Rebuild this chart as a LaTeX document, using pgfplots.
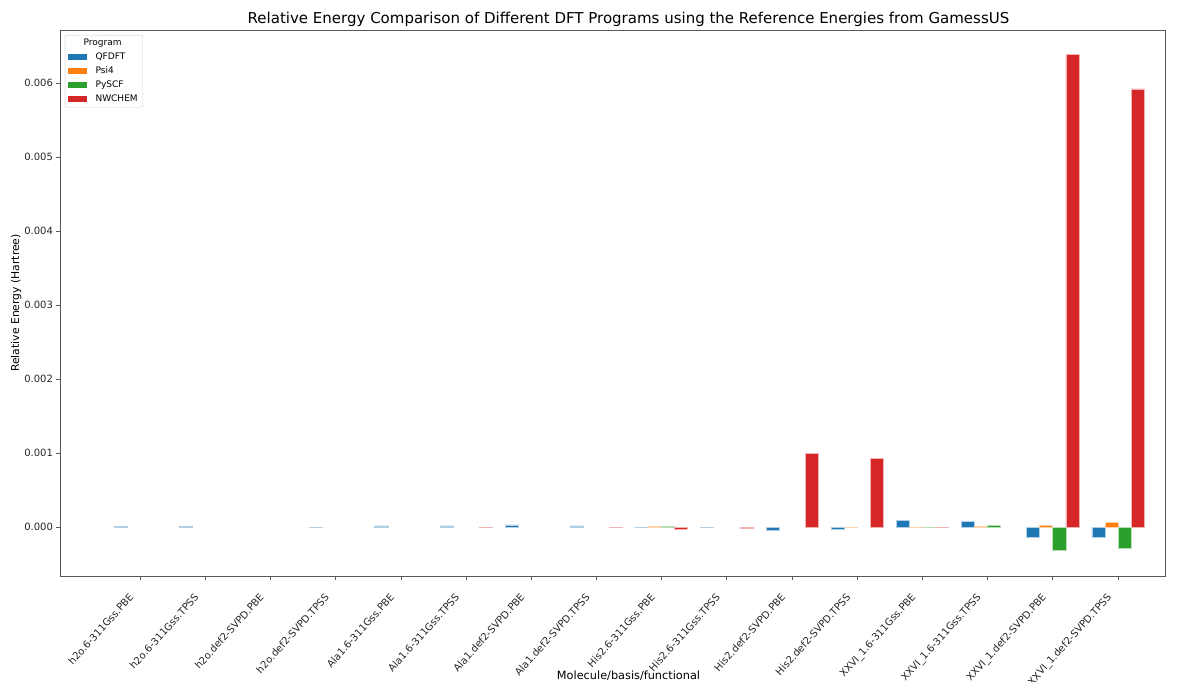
\documentclass[border=0pt]{standalone}
\usepackage{fontspec}
\setmainfont{DejaVu Sans}
\usepackage{pgfplots}
\usepackage{pgfplotstable}
\pgfplotsset{compat=1.18}
\definecolor{tabblue}{HTML}{1F77B4}
\definecolor{taborange}{HTML}{FF7F0E}
\definecolor{tabgreen}{HTML}{2CA02C}
\definecolor{tabred}{HTML}{D62728}
\definecolor{spine}{gray}{0.35}

\pgfplotstableread{
x qfdft psi4 pyscf nwchem
0 0.000002 nan nan nan
1 0.000002 nan nan nan
2 nan nan nan nan
3 -0.000002 nan nan nan
4 0.000015 nan nan nan
5 0.000015 nan nan -0.000003
6 0.000028 nan nan nan
7 0.000015 nan nan -0.000003
8 -0.000003 0.000003 0.000003 -0.00003
9 -0.000002 nan nan -0.000025
10 -0.00004 nan nan 0.001
11 -0.00003 -0.000003 nan 0.00093
12 0.00009 -0.000002 -0.000002 -0.000002
13 0.00007 0.000002 0.00002 nan
14 -0.000145 0.000025 -0.00031 0.00638
15 -0.000145 0.000058 -0.00029 0.00592
}\data

\pgfplotsset{
  patchlegend/.style={legend image code/.code={%
    \fill[##1, draw=none, sharp corners] (0pt,-2.8pt) rectangle (19pt,2.8pt);
    \path (25pt,0pt);}},
}

\begin{document}
\begin{tikzpicture}
\useasboundingbox (-60pt,-105pt) rectangle (1124pt,576pt);
\begin{axis}[
  scale only axis,
  width=1105pt, height=546pt,
  xmin=-1.23, xmax=15.72,
  ymin=-0.000662, ymax=0.006716,
  axis line style={spine, line width=0.9pt},
  tick style={spine, line width=0.9pt},
  tick align=outside,
  tick pos=left,
  major tick length=3.5pt,
  xtick={0,...,15},
  xticklabels={h2o.6-311Gss.PBE, h2o.6-311Gss.TPSS, h2o.def2-SVPD.PBE, h2o.def2-SVPD.TPSS,
    Ala1.6-311Gss.PBE, Ala1.6-311Gss.TPSS, Ala1.def2-SVPD.PBE, Ala1.def2-SVPD.TPSS,
    His2.6-311Gss.PBE, His2.6-311Gss.TPSS, His2.def2-SVPD.PBE, His2.def2-SVPD.TPSS,
    XXVI\_1.6-311Gss.PBE, XXVI\_1.6-311Gss.TPSS, XXVI\_1.def2-SVPD.PBE, XXVI\_1.def2-SVPD.TPSS},
  xticklabel style={xshift=-12pt, yshift=-10pt, rotate=48, anchor=north east, font=\fontsize{10}{11}\selectfont, text=black!85, inner sep=2pt},
  ytick={0,0.001,0.002,0.003,0.004,0.005,0.006},
  scaled y ticks=false,
  yticklabel style={font=\fontsize{10}{12}\selectfont, text=black!85, /pgf/number format/.cd, fixed, fixed zerofill, precision=3, assume math mode=true},
  title={Relative Energy Comparison of Different DFT Programs using the Reference Energies from GamessUS},
  every axis title shift=0pt,
  title style={at={(axis description cs:0.5145,1.02)}, anchor=center, font=\fontsize{15}{17}\selectfont},
  xlabel={Molecule/basis/functional},
  xlabel style={at={(axis description cs:0.5145,-0.1832)}, anchor=center, font=\fontsize{11.3}{13}\selectfont},
  ylabel={Relative Energy (Hartree)},
  ylabel style={at={(axis description cs:-0.0398,0.5)}, anchor=center, font=\fontsize{10.8}{12}\selectfont},
  legend style={at={(axis description cs:0.0045,0.991)}, anchor=north west,
    draw=black!18, rounded corners=2pt, font=\fontsize{9}{10}\selectfont,
    row sep=1.8pt, inner xsep=3pt, inner ysep=2pt},
  legend cell align=left,
  clip=false,
]
\addlegendimage{empty legend}
\addlegendentry{\hspace*{-12pt}Program}
\addplot[ybar, bar width=0.2, bar shift=-0.3, fill=tabblue, draw=tabblue!35, line width=0.8pt, patchlegend] table[x=x, y=qfdft] {\data};
\addlegendentry{QFDFT}
\addplot[ybar, bar width=0.2, bar shift=-0.1, fill=taborange, draw=taborange!35, line width=0.8pt, patchlegend] table[x=x, y=psi4] {\data};
\addlegendentry{Psi4}
\addplot[ybar, bar width=0.2, bar shift=0.1, fill=tabgreen, draw=tabgreen!35, line width=0.8pt, patchlegend] table[x=x, y=pyscf] {\data};
\addlegendentry{PySCF}
\addplot[ybar, bar width=0.2, bar shift=0.3, fill=tabred, draw=tabred!35, line width=0.8pt, patchlegend] table[x=x, y=nwchem] {\data};
\addlegendentry{NWCHEM}
\end{axis}
\end{tikzpicture}
\end{document}
